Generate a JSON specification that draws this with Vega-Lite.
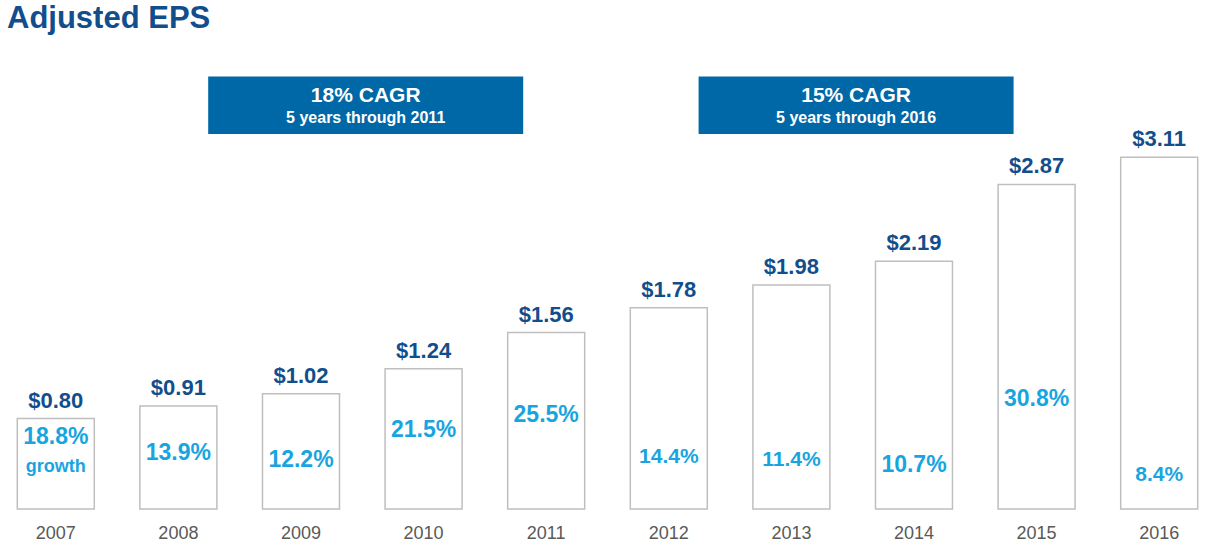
{
  "$schema": "https://vega.github.io/schema/vega-lite/v6.json",
  "autosize": "none",
  "width": 1207,
  "height": 464,
  "padding": {"left": 0, "right": 0, "top": 45, "bottom": 41},
  "background": "white",
  "title": {
    "text": "Adjusted EPS",
    "anchor": "start",
    "frame": "group",
    "orient": "top",
    "baseline": "alphabetic",
    "offset": -14,
    "dx": 7,
    "font": "Liberation Sans",
    "fontSize": 31,
    "fontWeight": "bold",
    "color": "#114E8B"
  },
  "config": {
    "view": {"stroke": null},
    "font": "Liberation Sans"
  },
  "datasets": {
    "eps": [
      {"year": "2007", "eps": 0.80, "label": "$0.80", "growth": "18.8%", "growth_pos": 0.637, "size": "big", "note": "growth"},
      {"year": "2008", "eps": 0.91, "label": "$0.91", "growth": "13.9%", "growth_pos": 0.495, "size": "big"},
      {"year": "2009", "eps": 1.02, "label": "$1.02", "growth": "12.2%", "growth_pos": 0.430, "size": "big"},
      {"year": "2010", "eps": 1.24, "label": "$1.24", "growth": "21.5%", "growth_pos": 0.701, "size": "big"},
      {"year": "2011", "eps": 1.56, "label": "$1.56", "growth": "25.5%", "growth_pos": 0.827, "size": "big"},
      {"year": "2012", "eps": 1.78, "label": "$1.78", "growth": "14.4%", "growth_pos": 0.460, "size": "small"},
      {"year": "2013", "eps": 1.98, "label": "$1.98", "growth": "11.4%", "growth_pos": 0.436, "size": "small"},
      {"year": "2014", "eps": 2.19, "label": "$2.19", "growth": "10.7%", "growth_pos": 0.392, "size": "big"},
      {"year": "2015", "eps": 2.87, "label": "$2.87", "growth": "30.8%", "growth_pos": 0.973, "size": "big"},
      {"year": "2016", "eps": 3.11, "label": "$3.11", "growth": "8.4%", "growth_pos": 0.304, "size": "small"}
    ],
    "cagr": [
      {"anchor": "2009", "cagr": "18% CAGR", "period": "5 years through 2011"},
      {"anchor": "2013", "cagr": "15% CAGR", "period": "5 years through 2016"}
    ]
  },
  "encoding": {
    "x": {
      "field": "year",
      "type": "nominal",
      "sort": null,
      "scale": {
        "domain": ["2007", "2008", "2009", "2010", "2011", "2012", "2013", "2014", "2015", "2016"],
        "paddingInner": 0.372,
        "paddingOuter": 0.1085,
        "align": 0.65,
        "round": false
      },
      "axis": {
        "title": null,
        "orient": "bottom",
        "domain": false,
        "ticks": false,
        "tickSize": 0,
        "grid": false,
        "labelAngle": 0,
        "labelFont": "Liberation Sans",
        "labelFontSize": 18,
        "labelColor": "#595959",
        "labelBaseline": "alphabetic",
        "labelPadding": 29
      }
    }
  },
  "layer": [
    {
      "data": {"name": "eps"},
      "mark": {"type": "bar", "fill": "white", "stroke": "#BFBFBF", "strokeWidth": 1.5},
      "encoding": {
        "y": {
          "field": "eps",
          "type": "quantitative",
          "scale": {"domain": [0, 4.103], "nice": false, "zero": true},
          "axis": null
        }
      }
    },
    {
      "data": {"name": "eps"},
      "mark": {"type": "text", "baseline": "alphabetic", "dy": -11, "fontSize": 22, "fontWeight": "bold", "color": "#114E8B", "font": "Liberation Sans"},
      "encoding": {
        "y": {"field": "eps", "type": "quantitative"},
        "text": {"field": "label"}
      }
    },
    {
      "data": {"name": "eps"},
      "transform": [{"filter": "datum.size === 'big'"}],
      "mark": {"type": "text", "baseline": "middle", "fontSize": 23, "fontWeight": "bold", "color": "#18A5DF", "font": "Liberation Sans"},
      "encoding": {
        "y": {"field": "growth_pos", "type": "quantitative"},
        "text": {"field": "growth"}
      }
    },
    {
      "data": {"name": "eps"},
      "transform": [{"filter": "datum.size === 'small'"}],
      "mark": {"type": "text", "baseline": "middle", "fontSize": 21, "fontWeight": "bold", "color": "#18A5DF", "font": "Liberation Sans"},
      "encoding": {
        "y": {"field": "growth_pos", "type": "quantitative"},
        "text": {"field": "growth"}
      }
    },
    {
      "data": {"name": "eps"},
      "transform": [{"filter": "datum.note"}],
      "mark": {"type": "text", "baseline": "middle", "dy": 30, "fontSize": 18, "fontWeight": "bold", "color": "#18A5DF", "font": "Liberation Sans"},
      "encoding": {
        "y": {"field": "growth_pos", "type": "quantitative"},
        "text": {"field": "note"}
      }
    },
    {
      "data": {"name": "cagr"},
      "mark": {"type": "bar", "width": 315, "xOffset": 64.7, "fill": "#0068A7"},
      "encoding": {
        "x": {"field": "anchor", "type": "nominal"},
        "y": {"datum": 3.825},
        "y2": {"datum": 3.316}
      }
    },
    {
      "data": {"name": "cagr"},
      "mark": {"type": "text", "baseline": "middle", "dx": 64.7, "fontSize": 21, "fontWeight": "bold", "color": "white", "font": "Liberation Sans"},
      "encoding": {
        "x": {"field": "anchor", "type": "nominal"},
        "y": {"datum": 3.648},
        "text": {"field": "cagr"}
      }
    },
    {
      "data": {"name": "cagr"},
      "mark": {"type": "text", "baseline": "middle", "dx": 64.7, "fontSize": 16, "fontWeight": "bold", "color": "white", "font": "Liberation Sans"},
      "encoding": {
        "x": {"field": "anchor", "type": "nominal"},
        "y": {"datum": 3.455},
        "text": {"field": "period"}
      }
    }
  ]
}
